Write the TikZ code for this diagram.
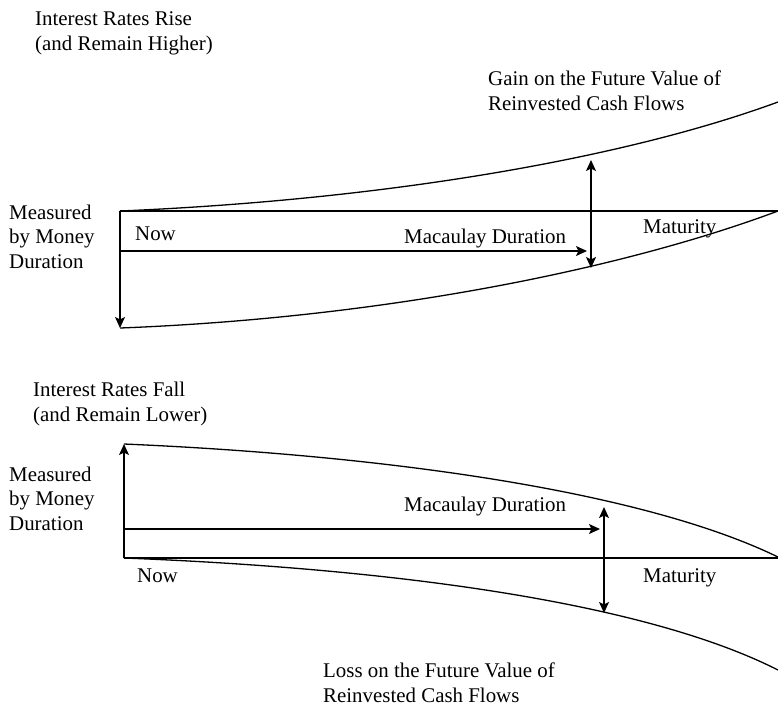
\documentclass[tikz,border=0pt]{standalone}
\usepackage{fontspec}
\setmainfont{Liberation Serif}
\usetikzlibrary{arrows.meta}
\begin{document}
\begin{tikzpicture}[x=1pt,y=-1pt,
  curve/.style={line width=1.3pt},
  tip/.tip={Stealth[length=11pt,width=10pt,inset=2.5pt]},
  arr/.style={line width=1.3pt,-tip},
  darr/.style={line width=1.3pt,tip-tip},
  % multi-line labels sit on the baseline of their last line
  lbl/.style={anchor=base west,inner sep=0pt,align=left,
    font=\fontsize{20.9}{24.5}\selectfont}]
\useasboundingbox (0,0) rectangle (778,705);

% ---------- rising rates ----------
\coordinate (uNow)  at (120,211);
\coordinate (uLow)  at (120,328);
\coordinate (uMat)  at (778,211);
\coordinate (uHigh) at (778,102);
\coordinate (uMacS) at (120,251);
\coordinate (uMacE) at (587,251);
\coordinate (uGapT) at (591,160);
\coordinate (uGapB) at (591,268);

\draw[curve] (uNow) -- (uMat);
\draw[curve] (uNow) .. controls (380,200) and (620,160) .. (uHigh);
\draw[curve] (uLow) .. controls (380,318) and (620,270) .. (uMat);
\draw[arr] (uNow) -- (uLow);
\draw[arr] (uMacS) -- (uMacE);
\draw[darr] (uGapT) -- (uGapB);

\node[lbl] (riseT) at (35,50) {Interest Rates Rise\\(and Remain Higher)};
\node[lbl] (gainT) at (488,110) {Gain on the Future Value of\\Reinvested Cash Flows};
\node[lbl] (mdU) at (9,268) {Measured\\by Money\\Duration};
\node[lbl] (nowU) at (135,240) {Now};
\node[lbl] (macU) at (404,243) {Macaulay Duration};
\node[lbl] (matU) at (643,233) {Maturity};

% ---------- falling rates ----------
\coordinate (dNow)  at (124,558);
\coordinate (dHigh) at (124,444);
\coordinate (dMat)  at (778,558);
\coordinate (dLow)  at (778,670);
\coordinate (dMacS) at (124,529);
\coordinate (dMacE) at (600,529);
\coordinate (dGapT) at (604,507);
\coordinate (dGapB) at (604,613);

\draw[curve] (dNow) -- (dMat);
\draw[curve] (dHigh) .. controls (380,455) and (640,490) .. (778,557);
\draw[curve] (dNow) .. controls (380,568) and (640,600) .. (dLow);
\draw[arr] (dNow) -- (dHigh);
\draw[arr] (dMacS) -- (dMacE);
\draw[darr] (dGapT) -- (dGapB);

\node[lbl] (fallT) at (33,421) {Interest Rates Fall\\(and Remain Lower)};
\node[lbl] (lossT) at (323,702) {Loss on the Future Value of\\Reinvested Cash Flows};
\node[lbl] (mdD) at (9,530) {Measured\\by Money\\Duration};
\node[lbl] (nowD) at (137,582) {Now};
\node[lbl] (macD) at (404,511) {Macaulay Duration};
\node[lbl] (matD) at (643,582) {Maturity};
\end{tikzpicture}
\end{document}
